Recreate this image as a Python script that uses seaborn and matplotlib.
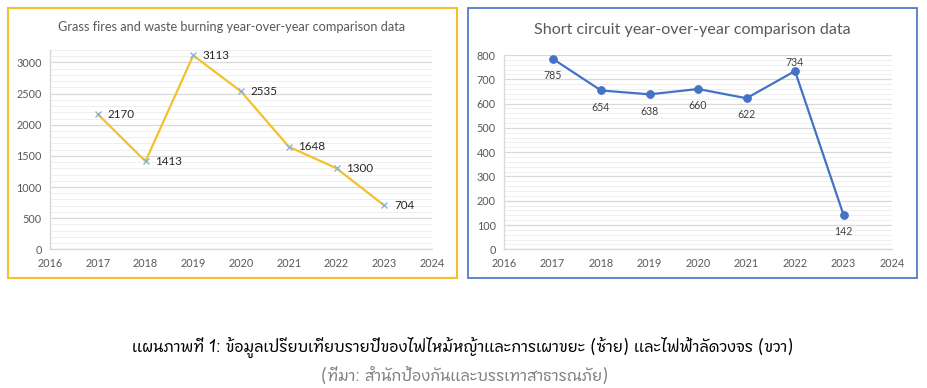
import matplotlib
matplotlib.use("Agg")
import matplotlib.pyplot as plt
from matplotlib import font_manager
from matplotlib.patches import Rectangle
from matplotlib.ticker import MultipleLocator
import seaborn as sns
import pandas as pd

years = [2017, 2018, 2019, 2020, 2021, 2022, 2023]
grass_fires = [2170, 1413, 3113, 2535, 1648, 1300, 704]
short_circuit = [785, 654, 638, 660, 622, 734, 142]
title_left = "Grass fires and waste burning year-over-year comparison data"
title_right = "Short circuit year-over-year comparison data"
caption1 = "แผนภาพที่ 1: ข้อมูลเปรียบเทียบรายปีของไฟไหม้หญ้าและการเผาขยะ (ซ้าย) และไฟฟ้าลัดวงจร (ขวา)"
caption2 = "(ที่มา: สำนักป้องกันและบรรเทาสาธารณภัย)"

sns.set_theme(style="white")
plt.rcParams["font.family"] = ["Lato", "DejaVu Sans"]


def find_thai_font():
    try:
        from fontTools.ttLib import TTFont
    except Exception:
        return None
    best = None
    for f in font_manager.fontManager.ttflist:
        try:
            tt = TTFont(f.fname, fontNumber=0, lazy=True)
            cmap = tt.getBestCmap()
            if cmap and ord("ก") in cmap:
                if best is None or "Sans" in f.name:
                    best = f.name
        except Exception:
            continue
    return best


thai = find_thai_font()
cap_family = [thai, "DejaVu Sans"] if thai else ["DejaVu Sans"]

W, H = 927, 388
fig = plt.figure(figsize=(W / 100, H / 100), dpi=100)


def fx(px):
    return px / W


def fy(py):
    return 1 - py / H


# panel borders
fig.patches.append(Rectangle((fx(8), fy(278)), fx(449), (270) / H, transform=fig.transFigure,
                             fill=False, edgecolor="#F2C12E", linewidth=1.5))
fig.patches.append(Rectangle((fx(468), fy(278)), fx(449), (270) / H, transform=fig.transFigure,
                             fill=False, edgecolor="#4472C4", linewidth=1.2))

grid_major = "#d9d9d9"
grid_minor = "#efefef"
tick_col = "#595959"


def style_axes(ax, ymax, major, minor):
    ax.set_xlim(2016, 2024)
    ax.set_ylim(0, ymax)
    ax.yaxis.set_major_locator(MultipleLocator(major))
    ax.yaxis.set_minor_locator(MultipleLocator(minor))
    ax.xaxis.set_major_locator(MultipleLocator(1))
    ax.grid(True, axis="y", which="major", color=grid_major, linewidth=0.9)
    ax.grid(True, axis="y", which="minor", color=grid_minor, linewidth=0.7)
    ax.set_axisbelow(True)
    for s in ["top", "right"]:
        ax.spines[s].set_visible(False)
    for s in ["left", "bottom"]:
        ax.spines[s].set_color(grid_major)
        ax.spines[s].set_linewidth(1.0)
    ax.tick_params(axis="both", which="both", length=0, labelsize=7.8, labelcolor=tick_col, pad=6)
    ax.set_xlabel("")
    ax.set_ylabel("")


# left chart
axL = fig.add_axes([fx(50), fy(249.3), fx(382), (249.3 - 50) / H])
dfL = pd.DataFrame({"year": years, "value": grass_fires})
sns.lineplot(data=dfL, x="year", y="value", ax=axL, color="#F2C12E", linewidth=1.6,
             marker="x", markersize=5, markeredgecolor="#8FB4CC", markeredgewidth=1.0)
style_axes(axL, 3200, 500, 100)
for x, y in zip(years, grass_fires):
    axL.annotate(str(y), (x, y), xytext=(7, 0), textcoords="offset points",
                 ha="left", va="center", fontsize=8.4, color="#262626")
fig.text(fx(232), fy(27), title_left, ha="center", va="center", fontsize=9.2, color="#595959")

# right chart
axR = fig.add_axes([fx(504), fy(249.3), fx(388), (249.3 - 55) / H])
dfR = pd.DataFrame({"year": years, "value": short_circuit})
sns.lineplot(data=dfR, x="year", y="value", ax=axR, color="#4472C4", linewidth=1.6,
             marker="o", markersize=5.5, markeredgecolor="#4472C4", markerfacecolor="#4472C4")
style_axes(axR, 800, 100, 20)
for i, (x, y) in enumerate(zip(years, short_circuit)):
    above = (y == 734)
    axR.annotate(str(y), (x, y), xytext=(0, 6.5 if above else -12), textcoords="offset points",
                 ha="center", va="center", fontsize=7.6, color="#404040")
fig.text(fx(692), fy(30), title_right, ha="center", va="center", fontsize=11.6, color="#595959")

# caption
fig.text(fx(463), fy(347), caption1, ha="center", va="center", fontsize=11.2,
         fontweight="bold", color="#000000", family=cap_family)
fig.text(fx(465), fy(377), caption2, ha="center", va="center", fontsize=11.2,
         fontstyle="italic", color="#808080", family=cap_family)

fig.savefig("out.png", dpi=100)
